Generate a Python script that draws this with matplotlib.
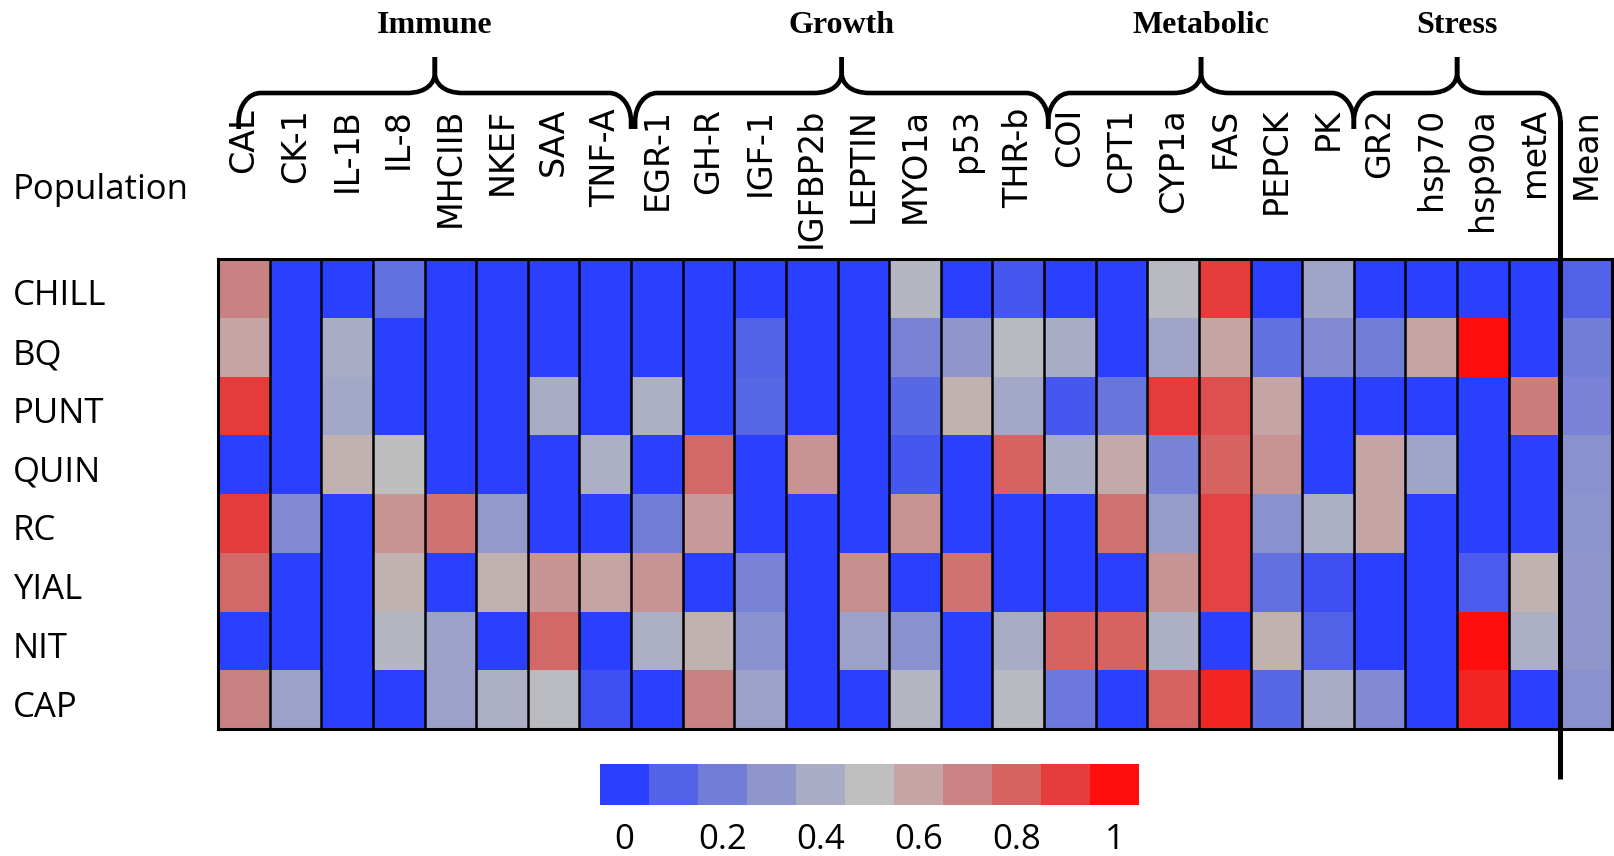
import numpy as np
import matplotlib
matplotlib.use("Agg")
import matplotlib.pyplot as plt
from matplotlib.colors import LinearSegmentedColormap, ListedColormap, BoundaryNorm
from matplotlib.cm import ScalarMappable
from matplotlib.path import Path
from matplotlib.patches import PathPatch
from matplotlib.transforms import blended_transform_factory

genes = ["CAL", "CK-1", "IL-1B", "IL-8", "MHCIIB", "NKEF", "SAA", "TNF-A",
         "EGR-1", "GH-R", "IGF-1", "IGFBP2b", "LEPTIN", "MYO1a", "p53", "THR-b",
         "COI", "CPT1", "CYP1a", "FAS", "PEPCK", "PK",
         "GR2", "hsp70", "hsp90a", "metA", "Mean"]
populations = ["CHILL", "BQ", "PUNT", "QUIN", "RC", "YIAL", "NIT", "CAP"]
groups = ["Immune", "Growth", "Metabolic", "Stress"]
# first and last column covered by each bracket
group_spans = [(0.4, 8.0), (8.08, 16.08), (16.08, 22.0), (22.0, 26.0)]

chill = [.70, 0, 0, .15, 0, 0, 0, 0, 0, 0, 0, 0, 0, .45, 0, .07, 0, 0, .47, .90, 0, .37, 0, 0, 0, 0, .10]
bq    = [.60, 0, .40, 0, 0, 0, 0, 0, 0, 0, .10, 0, 0, .22, .30, .47, .40, 0, .37, .60, .15, .25, .20, .60, 1.0, 0, .20]
punt  = [.90, 0, .38, 0, 0, 0, .40, 0, .42, 0, .12, 0, 0, .12, .55, .38, .07, .17, .90, .85, .60, 0, 0, 0, 0, .72, .22]
quin  = [0, 0, .55, .50, 0, 0, 0, .42, 0, .78, 0, .65, 0, .07, 0, .80, .40, .58, .22, .80, .65, 0, .60, .37, 0, 0, .28]
rc    = [.90, .25, 0, .65, .75, .32, 0, 0, .20, .63, 0, 0, 0, .65, 0, 0, 0, .75, .33, .88, .28, .42, .60, 0, 0, 0, .29]
yial  = [.78, 0, 0, .55, 0, .55, .65, .60, .65, 0, .22, 0, .67, 0, .75, 0, 0, 0, .65, .88, .15, .05, 0, 0, .08, .55, .30]
nit   = [0, 0, 0, .45, .35, 0, .78, 0, .42, .55, .28, 0, .35, .28, 0, .40, .80, .80, .42, 0, .55, .10, 0, 0, 1.0, .42, .30]
cap   = [.70, .35, 0, 0, .35, .42, .48, .05, 0, .70, .35, 0, 0, .45, 0, .47, .18, 0, .80, .95, .12, .40, .25, 0, .95, 0, .28]

scale_colors = ["#2b3fff", "#5363e8", "#727dd8", "#8f96cc", "#a8acc5", "#bfbfbf",
                "#c4a4a4", "#c98383", "#d66262", "#e63c3c", "#ff0e0e"]
scale_ticks = [0, 0.2, 0.4, 0.6, 0.8, 1]
scale_labels = ["0", "0.2", "0.4", "0.6", "0.8", "1"]

data = np.array([chill, bq, punt, quin, rc, yial, nit, cap])

W, H = 1614, 856
fig = plt.figure(figsize=(W / 100, H / 100), dpi=100)

# heatmap area in pixels
hx0, hx1, hy0, hy1 = 218, 1612, 259, 729
ax = fig.add_axes([hx0 / W, 1 - hy1 / H, (hx1 - hx0) / W, (hy1 - hy0) / H])
cmap = LinearSegmentedColormap.from_list("bgr", scale_colors)
ax.pcolormesh(data, cmap=cmap, vmin=0, vmax=1)
ax.set_xlim(0, len(genes))
ax.set_ylim(len(populations), 0)
ax.vlines(np.arange(1, len(genes)), 0, len(populations), color="black", lw=1.8)
ax.set_xticks([])
ax.set_yticks([])
for s in ax.spines.values():
    s.set_linewidth(2.2)

col_tr = blended_transform_factory(ax.transData, fig.transFigure)
for i, g in enumerate(genes):
    ax.text(i + 0.5, 1 - 108 / H, g, transform=col_tr, rotation=90,
            ha="center", va="top", fontsize=24, family="DejaVu Sans")

row_h = (hy1 - hy0) / len(populations)
row_tr = blended_transform_factory(fig.transFigure, ax.transData)
for r, p in enumerate(populations):
    ax.text(13 / W, r + 0.5 + 8 / row_h, p, transform=row_tr, ha="left", va="center",
            fontsize=25, family="Open Sans")
fig.text(13 / W, 1 - 190 / H, "Population", ha="left", va="center",
         fontsize=25, family="Open Sans")

# overlay in pixel units for the brackets
ov = fig.add_axes([0, 0, 1, 1])
ov.set_xlim(0, W)
ov.set_ylim(H, 0)
ov.axis("off")
ov.patch.set_alpha(0)

col_w = (hx1 - hx0) / len(genes)


def half_brace(xe, xm, y_arm=93, y_end=129, y_peak=57, rx=22, ry=28, cw=28, ch=20):
    d = 1 if xm > xe else -1
    k = 0.55
    verts = [(xe, y_end), (xe, y_arm + ry),
             (xe, y_arm + ry * (1 - k)), (xe + d * rx * (1 - k), y_arm), (xe + d * rx, y_arm),
             (xm - d * cw, y_arm),
             (xm - d * cw * 0.3, y_arm), (xm, y_arm - ch * 0.5), (xm, y_arm - ch),
             (xm, y_peak)]
    codes = [Path.MOVETO, Path.LINETO,
             Path.CURVE4, Path.CURVE4, Path.CURVE4,
             Path.LINETO,
             Path.CURVE4, Path.CURVE4, Path.CURVE4,
             Path.LINETO]
    return Path(verts, codes)


for name, (c0, c1) in zip(groups, group_spans):
    x0 = hx0 + c0 * col_w
    x1 = hx0 + c1 * col_w
    xm = (x0 + x1) / 2
    for xe in (x0, x1):
        ov.add_patch(PathPatch(half_brace(xe, xm), facecolor="none", edgecolor="black",
                               lw=3.3, capstyle="butt", joinstyle="round"))
    ov.text(xm, 25, name, ha="center", va="center", fontsize=23,
            fontweight="bold", family="Liberation Serif")

# divider between the genes and the mean column
xd = hx0 + 26 * col_w
ov.plot([xd, xd], [120, 779], color="black", lw=3.6, solid_capstyle="butt")

# colour scale
cax = fig.add_axes([600 / W, 1 - 805 / H, 539 / W, 41 / H])
norm = BoundaryNorm(np.linspace(-0.05, 1.05, len(scale_colors) + 1), len(scale_colors))
cb = fig.colorbar(ScalarMappable(norm=norm, cmap=ListedColormap(scale_colors)),
                  cax=cax, orientation="horizontal", ticks=scale_ticks)
cb.outline.set_visible(False)
cax.minorticks_off()
cax.set_xticklabels(scale_labels, family="Open Sans", fontsize=25)
cax.tick_params(which="both", length=0, pad=13)

fig.savefig("out.png", dpi=100)
